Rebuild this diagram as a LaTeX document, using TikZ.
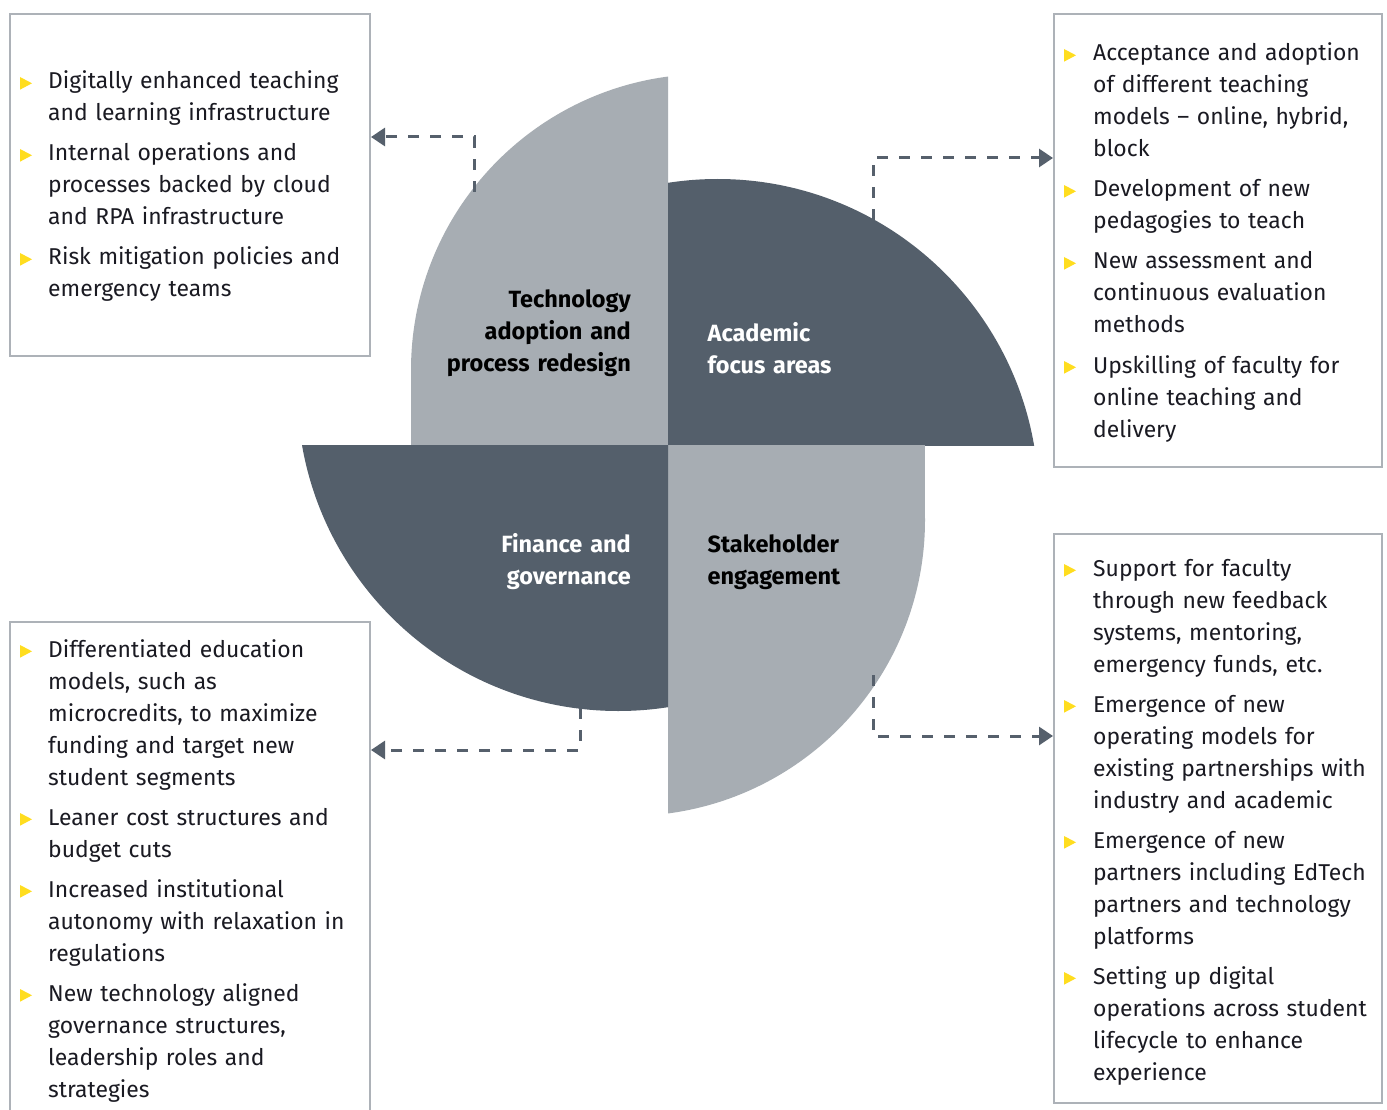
\documentclass[tikz,border=0pt]{standalone}
\usepackage{fontspec}
\setmainfont{Fira Sans}
\usetikzlibrary{arrows.meta}
\definecolor{lightq}{HTML}{A7ADB3}
\definecolor{darkq}{HTML}{545F6B}
\definecolor{boxc}{HTML}{ADB2B8}
\definecolor{dashc}{HTML}{56606C}
\definecolor{bulc}{HTML}{FFDD1F}
\definecolor{txtc}{HTML}{1A1A22}
\newcommand{\myitem}[5]{%
  \fill[bulc] ({#2},{#4-12}) -- ({#2+12},{#4-5.7}) -- ({#2},{#4+0.7}) -- cycle;
  \node[itemtxt] (#1) at (#3,#4) {#5};}
\begin{document}
\begin{tikzpicture}[x=1pt,y=-1pt,
  box/.style={draw=boxc, line width=2pt, rectangle, inner sep=0pt, anchor=north west},
  itemtxt/.style={anchor=base west, inner sep=0pt, text width=330pt, align=left, text=txtc,
    font=\fontsize{22.9}{32}\selectfont},
  lbl/.style={inner sep=0pt, text width=240pt, font=\fontsize{23.5}{32}\selectfont\bfseries},
  conn/.style={draw=dashc, line width=3pt, dash pattern=on 11pt off 11pt,
    -{Triangle[length=14pt,width=18pt]}, fill=none},
]
\useasboundingbox (0,0) rectangle (1387,1110);
\fill[white] (0,0) rectangle (1387,1110);

% quadrants
\begin{scope}
  \clip (300,0) rectangle (668,445);
  \fill[lightq] (707,370) circle[radius=296pt];
  \fill[lightq] (411,370) rectangle (668,445.5);
\end{scope}
\begin{scope}
  \clip (668,0) rectangle (1100,445);
  \fill[darkq] (717.7,500) circle[radius=321pt];
\end{scope}
\begin{scope}
  \clip (668,445) rectangle (1100,900);
  \fill[lightq] (629,520) circle[radius=296pt];
  \fill[lightq] (668,445) rectangle (925,520);
\end{scope}
\begin{scope}
  \clip (250,445) rectangle (668,900);
  \fill[darkq] (618.3,390) circle[radius=321pt];
\end{scope}

% labels
\node[lbl, anchor=base east, align=right, text=black] (ltech) at (631,307)
  {Technology\\adoption and\\process redesign};
\node[lbl, anchor=base west, align=left, text=white] (lacad) at (707.5,341)
  {Academic\\focus areas};
\node[lbl, anchor=base east, align=right, text=white] (lfin) at (631,552)
  {Finance and\\governance};
\node[lbl, anchor=base west, align=left, text=black] (lstake) at (707.5,552)
  {Stakeholder\\engagement};

% boxes
\node[box, minimum width=360pt, minimum height=342pt] (tlbox) at (9,13) {};
\node[box, minimum width=328pt, minimum height=453pt] (trbox) at (1053,13) {};
\node[box, minimum width=328pt, minimum height=569pt] (brbox) at (1053,533) {};
\node[box, minimum width=360pt, minimum height=520pt] (blbox) at (9,621) {};

% connectors
\coordinate (tls) at (474,192);
\coordinate (tlc) at (474,137);
\draw[conn] (tls) -- (tlc) -- (tlc -| tlbox.east);
\coordinate (trs) at (873,220);
\coordinate (trc) at (873,158);
\draw[conn] (trs) -- (trc) -- (trc -| trbox.west);
\coordinate (bls) at (580,708);
\coordinate (blc) at (580,750);
\draw[conn] (bls) -- (blc) -- (blc -| blbox.east);
\coordinate (brs) at (873,675);
\coordinate (brc) at (873,736);
\draw[conn] (brs) -- (brc) -- (brc -| brbox.west);

% top-left items
\myitem{tl1}{20}{48}{89}{Digitally enhanced teaching\\and learning infrastructure}
\myitem{tl2}{20}{48}{161}{Internal operations and\\processes backed by cloud\\and RPA infrastructure}
\myitem{tl3}{20}{48}{265}{Risk mitigation policies and\\emergency teams}

% top-right items
\myitem{tr1}{1064}{1093}{61}{Acceptance and adoption\\of different teaching\\models -- online, hybrid,\\block}
\myitem{tr2}{1064}{1093}{197}{Development of new\\pedagogies to teach}
\myitem{tr3}{1064}{1093}{269}{New assessment and\\continuous evaluation\\methods}
\myitem{tr4}{1064}{1093}{373}{Upskilling of faculty for\\online teaching and\\delivery}

% bottom-right items
\myitem{br1}{1064}{1093}{576}{Support for faculty\\through new feedback\\systems, mentoring,\\emergency funds, etc.}
\myitem{br2}{1064}{1093}{712}{Emergence of new\\operating models for\\existing partnerships with\\industry and academic}
\myitem{br3}{1064}{1093}{848}{Emergence of new\\partners including EdTech\\partners and technology\\platforms}
\myitem{br4}{1064}{1093}{984}{Setting up digital\\operations across student\\lifecycle to enhance\\experience}

% bottom-left items
\myitem{bl1}{20}{48}{657}{Differentiated education\\models, such as\\microcredits, to maximize\\funding and target new\\student segments}
\myitem{bl2}{20}{48}{825}{Leaner cost structures and\\budget cuts}
\myitem{bl3}{20}{48}{897}{Increased institutional\\autonomy with relaxation in\\regulations}
\myitem{bl4}{20}{48}{1001}{New technology aligned\\governance structures,\\leadership roles and\\strategies}
\end{tikzpicture}
\end{document}
